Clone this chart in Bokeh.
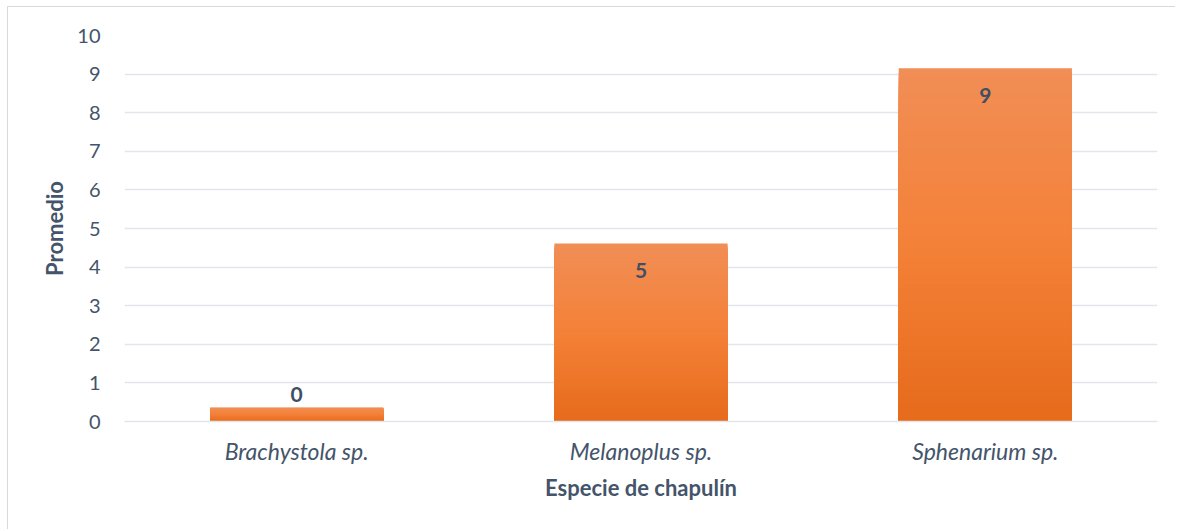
from bokeh.plotting import figure
from bokeh.models import ColumnDataSource, FixedTicker, Range1d
from bokeh.core.properties import value
from bokeh.embed import file_html
from bokeh.resources import INLINE

categories = ["Brachystola sp.", "Melanoplus sp.", "Sphenarium sp."]
promedio = [0.36, 4.61, 9.15]
labels = ["0", "5", "9"]
y_ticks = list(range(0, 11))

FONT = "Lato"
TXT = "#44546A"

p = figure(x_range=categories, y_range=Range1d(0, 10),
           width=1168, height=523, output_backend="svg", toolbar_location=None,
           min_border_left=116, min_border_right=19, min_border_top=28, min_border_bottom=109)
p.styles = {"border-left": "1px solid #D9D9D9", "border-top": "1px solid #D9D9D9",
            "margin-left": "7px", "margin-top": "6px"}
p.outline_line_color = None
p.background_fill_color = "white"
p.border_fill_color = "white"

# gradient bars: top light -> bottom dark
top_c = (241, 142, 86)
mid_c = (244, 129, 56)
bot_c = (230, 107, 27)

def lerp(a, b, t):
    return tuple(int(round(a[k] + (b[k] - a[k]) * t)) for k in range(3))

def grad(t):  # t=0 bottom, 1 top
    if t < 0.5:
        c = lerp(bot_c, mid_c, t / 0.5)
    else:
        c = lerp(mid_c, top_c, (t - 0.5) / 0.5)
    return "#%02x%02x%02x" % c

N = 80
xs, tops, cols = [], [], []
for cat, v in zip(categories, promedio):
    for i in range(N, 0, -1):  # tallest first, shorter drawn over it
        xs.append(cat)
        tops.append(v * i / N)
        cols.append(grad((i - 0.5) / N))
src = ColumnDataSource(dict(x=xs, top=tops, color=cols))
p.vbar(x="x", bottom=0, top="top", width=0.503, source=src,
       fill_color="color", line_color=None)

lab_src = ColumnDataSource(dict(x=categories, y=promedio, text=labels,
                                off=[27 if v > 1 else -13 for v in promedio]))
p.text(x="x", y="y", text="text", y_offset="off", source=lab_src,
       text_align="center", text_baseline="middle",
       text_font=value(FONT), text_font_style="bold", text_font_size="21px",
       text_color="#404F63")

# grid
p.xgrid.grid_line_color = None
p.ygrid.grid_line_color = "#E3E5EA"
p.ygrid.grid_line_width = 1.5
p.yaxis.ticker = FixedTicker(ticks=y_ticks)

p.yaxis.axis_line_color = None
p.yaxis.major_tick_line_color = None
p.yaxis.minor_tick_line_color = None
p.yaxis.major_label_standoff = 18
p.yaxis.major_label_text_font = FONT
p.yaxis.major_label_text_font_size = "20px"
p.yaxis.major_label_text_color = TXT
p.yaxis.axis_label = "Promedio"
p.yaxis.axis_label_text_font = FONT
p.yaxis.axis_label_text_font_style = "bold"
p.yaxis.axis_label_text_font_size = "22px"
p.yaxis.axis_label_text_color = TXT
p.yaxis.axis_label_standoff = 6

p.xaxis.axis_line_color = "#E3E5EA"
p.xaxis.axis_line_width = 1.5
p.xaxis.major_tick_line_color = None
p.xaxis.minor_tick_line_color = None
p.xaxis.major_label_standoff = 9
p.xaxis.major_label_text_font = FONT
p.xaxis.major_label_text_font_style = "italic"
p.xaxis.major_label_text_font_size = "23px"
p.xaxis.major_label_text_color = TXT
p.xaxis.axis_label = "Especie de chapulín"
p.xaxis.axis_label_text_font = FONT
p.xaxis.axis_label_text_font_style = "bold"
p.xaxis.axis_label_text_font_size = "22px"
p.xaxis.axis_label_text_color = TXT
p.xaxis.axis_label_standoff = 6

p.x_range.range_padding = 0

open("out.html", "w").write(file_html(p, INLINE))
